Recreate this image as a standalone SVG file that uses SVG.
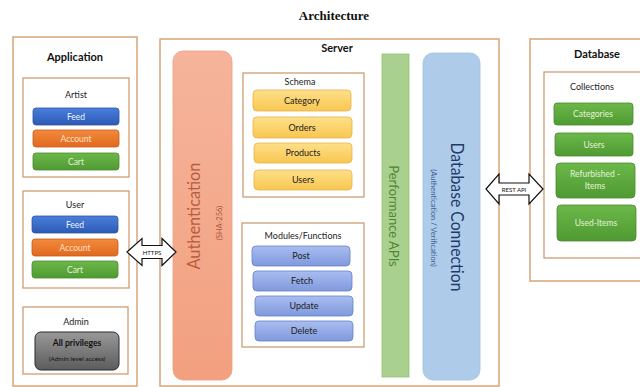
<svg xmlns="http://www.w3.org/2000/svg" width="640" height="387" viewBox="0 0 640 387">
<defs>
<linearGradient id="gBlue" x1="0" y1="0" x2="0" y2="1"><stop offset="0" stop-color="#4a7fdc"/><stop offset="1" stop-color="#2c5ab5"/></linearGradient>
<linearGradient id="gOrange" x1="0" y1="0" x2="0" y2="1"><stop offset="0" stop-color="#f28a3c"/><stop offset="1" stop-color="#e0691f"/></linearGradient>
<linearGradient id="gGreen" x1="0" y1="0" x2="0" y2="1"><stop offset="0" stop-color="#6db84a"/><stop offset="1" stop-color="#4f9a32"/></linearGradient>
<linearGradient id="gGray" x1="0" y1="0" x2="0" y2="1"><stop offset="0" stop-color="#999"/><stop offset="1" stop-color="#5c5c5c"/></linearGradient>
<linearGradient id="gYellow" x1="0" y1="0" x2="0" y2="1"><stop offset="0" stop-color="#fde08a"/><stop offset="1" stop-color="#f9c650"/></linearGradient>
<linearGradient id="gLav" x1="0" y1="0" x2="0" y2="1"><stop offset="0" stop-color="#a9bdf0"/><stop offset="1" stop-color="#7f99dd"/></linearGradient>
<linearGradient id="gAuth" x1="0" y1="0" x2="0" y2="1"><stop offset="0" stop-color="#f5b49b"/><stop offset="1" stop-color="#f2a07f"/></linearGradient>
</defs>
<style>
.frame{fill:#fff;stroke:#d8a578;stroke-width:1.5}
.sub{fill:#fff;stroke:#cf9e75;stroke-width:1.3}
.h{font-family:Lato,"Liberation Sans",sans-serif;font-weight:bold;font-size:11px;fill:#111;text-anchor:middle}
.lbl{font-family:Lato,"Liberation Sans",sans-serif;font-size:9px;fill:#222;text-anchor:middle}
.btn{font-family:Lato,"Liberation Sans",sans-serif;font-size:8.5px;text-anchor:middle}
.w{fill:#eef3ff}
.blue{fill:url(#gBlue);stroke:#2d559e;stroke-width:0.8}
.orange{fill:url(#gOrange);stroke:#c65c1a;stroke-width:0.8}
.green{fill:url(#gGreen);stroke:#4a8a2e;stroke-width:0.8}
.yel{fill:url(#gYellow);stroke:#e6b44d;stroke-width:0.8}
.lav{fill:url(#gLav);stroke:#6482c6;stroke-width:0.8}
.arrow{fill:#fff;stroke:#111;stroke-width:1.2}
.tiny{font-family:Lato,"Liberation Sans",sans-serif;font-size:6px;fill:#111;text-anchor:middle}
</style>
<text x="334" y="20" font-family="'Liberation Serif',serif" font-weight="bold" font-size="13" text-anchor="middle" fill="#111">Architecture</text>

<g id="application">
<rect class="frame" x="13" y="37" width="124" height="349"/>
<text class="h" x="75" y="61">Application</text>
</g>
<g id="artist">
<rect class="sub" x="23" y="78" width="106" height="99"/>
<text class="lbl" x="76" y="98">Artist</text>
<rect class="blue" x="33" y="108" width="86" height="17" rx="3"/>
<text class="btn w" x="76" y="119.5">Feed</text>
<rect class="orange" x="33" y="130" width="86" height="17" rx="3"/>
<text class="btn" x="76" y="141.5" fill="#ffe2cc">Account</text>
<rect class="green" x="33" y="153" width="86" height="17" rx="3"/>
<text class="btn" x="76" y="164.5" fill="#e3f3d8">Cart</text>
</g>
<g id="user">
<rect class="sub" x="23" y="191" width="106" height="97"/>
<text class="lbl" x="75" y="208">User</text>
<rect class="blue" x="32" y="216" width="86" height="17" rx="3"/>
<text class="btn w" x="75" y="227.5">Feed</text>
<rect class="orange" x="32" y="239" width="86" height="17" rx="3"/>
<text class="btn" x="75" y="250.5" fill="#ffe2cc">Account</text>
<rect class="green" x="32" y="261" width="86" height="17" rx="3"/>
<text class="btn" x="75" y="272.5" fill="#e3f3d8">Cart</text>
</g>
<g id="admin">
<rect class="sub" x="23" y="307" width="105" height="67"/>
<text class="lbl" x="76" y="325">Admin</text>
<rect x="35" y="332" width="84" height="38" rx="6" fill="url(#gGray)" stroke="#2a2a2a" stroke-width="1"/>
<text x="77" y="346" font-family="Lato,'Liberation Sans',sans-serif" font-weight="bold" font-size="8.5" text-anchor="middle" fill="#111">All privileges</text>
<text x="77" y="361" font-family="Lato,'Liberation Sans',sans-serif" font-size="6.5" text-anchor="middle" fill="#111">(Admin level access)</text>
</g>

<g id="server">
<rect class="frame" x="160" y="39" width="339" height="347"/>
<text class="h" x="337" y="52">Server</text>
</g>
<g id="authentication">
<rect x="173" y="51" width="59" height="329" rx="10" fill="url(#gAuth)" stroke="#eea080" stroke-width="0.8"/>
<text transform="translate(200,216) rotate(-90)" font-family="Lato,'Liberation Sans',sans-serif" font-size="17" text-anchor="middle" fill="#bb5a3a" textLength="107" lengthAdjust="spacingAndGlyphs">Authentication</text>
<text transform="translate(222,223) rotate(-90)" font-family="Lato,'Liberation Sans',sans-serif" font-size="7.5" text-anchor="middle" fill="#a9583c">(SHA-256)</text>
</g>
<g id="schema">
<rect class="sub" x="243" y="73" width="121" height="124"/>
<text class="lbl" x="300" y="85">Schema</text>
<rect class="yel" x="253" y="90" width="98" height="21" rx="4"/>
<text class="lbl" x="302" y="103.5">Category</text>
<rect class="yel" x="253" y="117" width="99" height="21" rx="4"/>
<text class="lbl" x="302" y="130.5">Orders</text>
<rect class="yel" x="254" y="143" width="98" height="20" rx="4"/>
<text class="lbl" x="303" y="156">Products</text>
<rect class="yel" x="254" y="170" width="98" height="20" rx="4"/>
<text class="lbl" x="303" y="183">Users</text>
</g>
<g id="modules">
<rect class="sub" x="242" y="223" width="122" height="124"/>
<text class="lbl" x="303" y="239">Modules/Functions</text>
<rect class="lav" x="252" y="246" width="98" height="20" rx="4"/>
<text class="lbl" x="301" y="259">Post</text>
<rect class="lav" x="253" y="271" width="99" height="20" rx="4"/>
<text class="lbl" x="302" y="284">Fetch</text>
<rect class="lav" x="255" y="296" width="98" height="20" rx="4"/>
<text class="lbl" x="304" y="309">Update</text>
<rect class="lav" x="255" y="321" width="98" height="20" rx="4"/>
<text class="lbl" x="304" y="334">Delete</text>
</g>
<g id="performance">
<rect x="382" y="54" width="27" height="323" fill="#a9d08e" stroke="#8fc06f" stroke-width="0.8"/>
<text transform="translate(389,216) rotate(90)" font-family="Lato,'Liberation Sans',sans-serif" font-size="13" text-anchor="middle" fill="#4f8636">Performance APIs</text>
</g>
<g id="dbconnection">
<rect x="423" y="53" width="57" height="327" rx="10" fill="#aecbea" stroke="#a0c0e2" stroke-width="0.8"/>
<text transform="translate(451,217) rotate(90)" font-family="Lato,'Liberation Sans',sans-serif" font-size="17" text-anchor="middle" fill="#1f3a68" textLength="149" lengthAdjust="spacingAndGlyphs">Database Connection</text>
<text transform="translate(431,218) rotate(90)" font-family="Lato,'Liberation Sans',sans-serif" font-size="7.5" text-anchor="middle" fill="#3f5f94">(Authentication / Verification)</text>
</g>

<g id="database">
<rect class="frame" x="530" y="39" width="115" height="242"/>
<text class="h" x="597" y="58">Database</text>
</g>
<g id="collections">
<rect class="sub" x="544" y="72" width="101" height="186"/>
<text class="lbl" x="592" y="90">Collections</text>
<rect class="green" x="554" y="103" width="79" height="22" rx="3"/>
<text class="btn" x="593" y="117" fill="#e3f3d8">Categories</text>
<rect class="green" x="555" y="133" width="78" height="23" rx="3"/>
<text class="btn" x="594" y="147.5" fill="#e3f3d8">Users</text>
<rect class="green" x="556" y="163" width="79" height="35" rx="4"/>
<text class="btn" x="595" y="177" fill="#e3f3d8">Refurbished -</text>
<text class="btn" x="595" y="189" fill="#e3f3d8">Items</text>
<rect class="green" x="557" y="205" width="79" height="36" rx="4"/>
<text class="btn" x="596" y="226" fill="#e3f3d8">Used-Items</text>
</g>

<g id="connectors">
<path class="arrow" d="M127,252 L142,238.5 L142,245.5 L162,245.5 L162,238.5 L176,252 L162,265.5 L162,258.5 L142,258.5 L142,265.5 Z"/>
<text class="tiny" x="152" y="254.5">HTTPS</text>
<path class="arrow" d="M486,189 L499,174 L499,183 L529,183 L529,174 L543,189 L529,204 L529,195 L499,195 L499,204 Z"/>
<text class="tiny" x="514" y="191.5">REST API</text>
</g>
</svg>
